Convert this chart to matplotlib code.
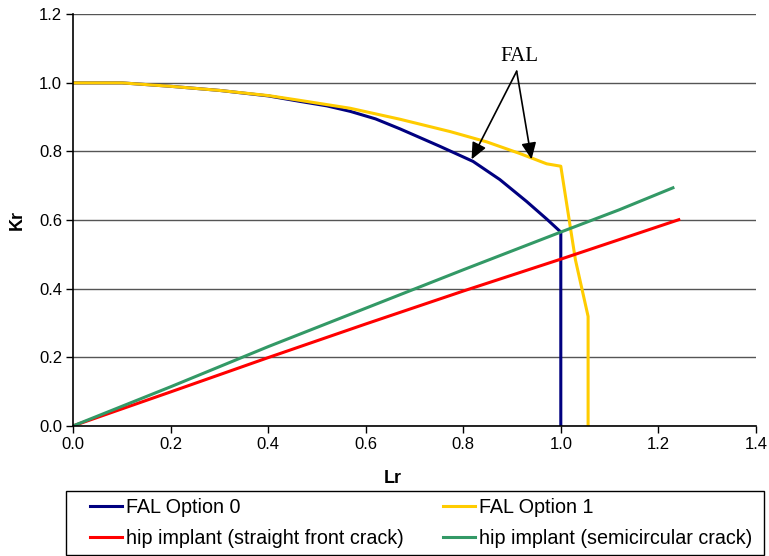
import matplotlib
matplotlib.use("Agg")
import matplotlib.pyplot as plt
from matplotlib.patches import Rectangle

# FAL Option 0
lr_opt0 = [0.0, 0.1, 0.2, 0.3, 0.4, 0.465, 0.52, 0.568, 0.62, 0.67, 0.752, 0.82, 0.875, 0.93, 0.971, 1.0, 1.0]
kr_opt0 = [1.0, 1.0, 0.99, 0.978, 0.962, 0.946, 0.933, 0.917, 0.895, 0.866, 0.815, 0.771, 0.718, 0.654, 0.603, 0.565, 0.0]
# FAL Option 1
lr_opt1 = [0.0, 0.1, 0.2, 0.3, 0.4, 0.465, 0.568, 0.67, 0.773, 0.848, 0.916, 0.971, 1.0, 1.03, 1.056, 1.056]
kr_opt1 = [1.0, 1.0, 0.99, 0.978, 0.963, 0.949, 0.926, 0.894, 0.858, 0.828, 0.794, 0.764, 0.757, 0.484, 0.319, 0.0]
# hip implant (straight front crack)
lr_straight = [0.0, 0.2, 0.4, 0.6, 0.8, 1.0, 1.242]
kr_straight = [0.0, 0.099, 0.199, 0.297, 0.393, 0.486, 0.601]
# hip implant (semicircular crack)
lr_semi = [0.0, 0.2, 0.4, 0.6, 0.8, 1.0, 1.12, 1.23]
kr_semi = [0.0, 0.114, 0.231, 0.343, 0.455, 0.565, 0.63, 0.694]

x_ticks = [0.0, 0.2, 0.4, 0.6, 0.8, 1.0, 1.2, 1.4]
y_ticks = [0.0, 0.2, 0.4, 0.6, 0.8, 1.0, 1.2]

plt.rcParams['font.family'] = ['Liberation Sans', 'DejaVu Sans']

W, H = 769, 556
fig = plt.figure(figsize=(W / 100, H / 100), dpi=100)
ax = fig.add_axes([73.3 / W, 1 - 425.8 / H, (755.8 - 73.3) / W, (425.8 - 14.3) / H])

lw = 2.2
l0, = ax.plot(lr_opt0, kr_opt0, color='#000080', lw=lw, label='FAL Option 0')
l1, = ax.plot(lr_opt1, kr_opt1, color='#FFCC00', lw=lw, label='FAL Option 1')
l2, = ax.plot(lr_straight, kr_straight, color='#FF0000', lw=lw, label='hip implant (straight front crack)')
l3, = ax.plot(lr_semi, kr_semi, color='#339966', lw=lw, label='hip implant (semicircular crack)')

ax.set_xlim(0, 1.4)
ax.set_ylim(0, 1.2)
ax.set_xticks(x_ticks)
ax.set_yticks(y_ticks)
ax.set_xticklabels([f"{v:.1f}" for v in x_ticks], fontsize=12)
ax.set_yticklabels([f"{v:.1f}" for v in y_ticks], fontsize=12)
ax.yaxis.grid(True, color='#555555', lw=1.0)
ax.set_axisbelow(True)
for s in ['top', 'right']:
    ax.spines[s].set_visible(False)
ax.spines['left'].set_linewidth(1.2)
ax.spines['bottom'].set_linewidth(1.2)
ax.tick_params(direction='out', length=5, width=1.0, pad=3)

ax.set_xlabel('Lr', fontsize=13, fontweight='bold')
ax.set_ylabel('Kr', fontsize=13, fontweight='bold')
ax.xaxis.set_label_coords((393 - 73.3) / 682.5, (425.8 - 470) / 411.5)
ax.yaxis.set_label_coords((26 - 73.3) / 682.5, 0.5)

ax.text(0.916, 1.077, 'FAL', family=['Liberation Serif', 'DejaVu Serif'], fontsize=15,
        ha='center', va='center')
for hx, hy in [(0.817, 0.777), (0.94, 0.777)]:
    ax.annotate('', xy=(hx, hy), xytext=(0.9095, 1.034),
                arrowprops=dict(arrowstyle='-|>,head_length=1.0,head_width=0.45',
                                color='black', lw=1.2, shrinkA=0, shrinkB=0))

# legend frame
fig.patches.append(Rectangle((65.7 / W, 1 - 554.7 / H), (764 - 65.7) / W, (554.7 - 491) / H,
                             transform=fig.transFigure, fill=False, ec='black', lw=1.0))
fs = 14.2
fpx = fs * 100 / 72
leg = fig.legend(handles=[l0, l2, l1, l3], ncol=2, loc='center left',
                 bbox_to_anchor=(90 / W, 1 - 523.3 / H),
                 fontsize=fs, frameon=False,
                 handlelength=32 / fpx, handletextpad=4 / fpx,
                 borderaxespad=0, labelspacing=0.6, borderpad=0,
                 columnspacing=39 / fpx)

fig.savefig('out.png', dpi=100)
